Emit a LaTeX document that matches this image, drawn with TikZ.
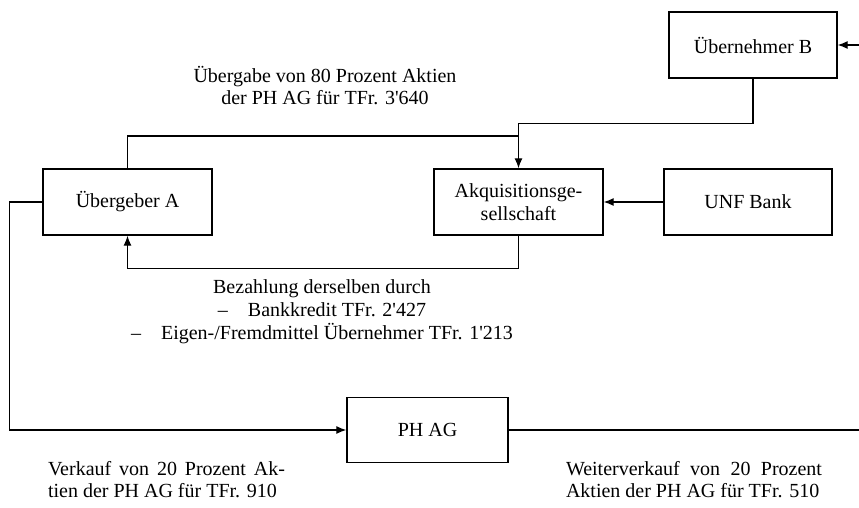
\documentclass[tikz,border=0pt]{standalone}
\usepackage{fontspec}
\setmainfont{Liberation Serif}
\usetikzlibrary{arrows.meta}

\begin{document}
\begin{tikzpicture}[x=0.5pt,y=-0.5pt,line width=0.6pt,
  >={Latex[length=5pt,width=4pt]},
  box/.style={draw,line width=0.7pt,minimum height=33pt,inner sep=1pt,align=center,
    font=\fontsize{10}{11.5}\selectfont},
  lbl/.style={inner sep=0pt,font=\fontsize{10}{11}\selectfont}]
\useasboundingbox (0,0) rectangle (859,508);
\coordinate (rEdge) at (859,0);
\node[box,minimum width=84pt] (uebB) at (753,45) {Übernehmer B};
\node[box,minimum width=84.5pt] (uebA) at (127.5,202) {Übergeber A};
\node[box,minimum width=84.5pt] (akq) at (518.5,202) {Akquisitionsge-\\sellschaft};
\node[box,minimum width=84pt] (unf) at (748,202) {UNF Bank};
\node[box,minimum width=80.5pt,minimum height=32.5pt] (phag) at (427.5,430) {PH AG};
\coordinate (jn) at (518.5,136);
\draw[<-] (uebB.east) -- (uebB.east -| rEdge);
\draw[->] (uebB.south) -- ++(0,45) -| (akq.north);
\draw (uebA.north) |- (jn);
\draw[->] (akq.south) -- ++(0,33) -| (uebA.south);
\draw[->] (unf.west) -- (akq.east);
\draw[->] (uebA.west) -- ++(-33,0) |- (phag.west);
\draw (phag.east) -- (phag.east -| rEdge);
\node[lbl,align=center] (txtA) at (325,86) {Übergabe von 80 Prozent Aktien\\der PH AG für TFr. 3\textquotesingle 640};
\node[lbl,align=center,font=\fontsize{10}{11.5}\selectfont] (txtB) at (322,312) {Bezahlung derselben durch\\
  –\hspace{1em}Bankkredit TFr. 2\textquotesingle 427\\
  –\hspace{1em}Eigen-/Fremdmittel Übernehmer TFr. 1\textquotesingle 213};
\node[lbl,text width=118.5pt,align=justify] (txtC) at (166.5,480)
  {Verkauf von 20 Prozent Ak-\linebreak tien der PH AG für TFr. 910};
\node[lbl,text width=128pt,align=justify] (txtD) at (694,480)
  {Weiterverkauf von 20 Prozent\linebreak Aktien der PH AG für TFr. 510};
\end{tikzpicture}
\end{document}
